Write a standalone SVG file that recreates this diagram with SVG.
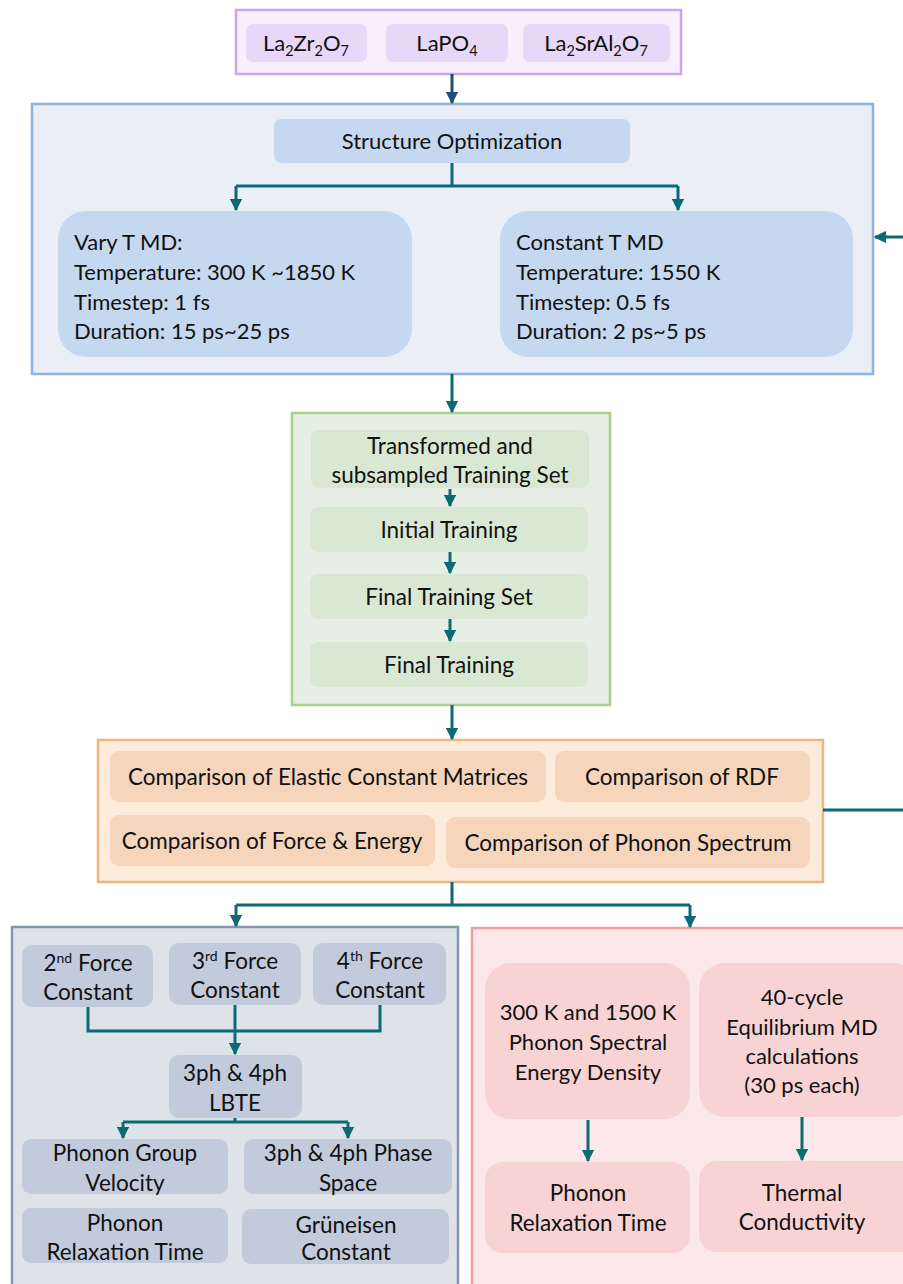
<svg xmlns="http://www.w3.org/2000/svg" width="903" height="1284" viewBox="0 0 903 1284">
<style>
text{font-family:Lato,"Open Sans","Liberation Sans",sans-serif;fill:#111;text-anchor:middle;}
.t19{font-size:22px;}
.tc{font-size:22.5px;}
.t21{font-size:22.5px;}
.tm{font-size:22px;}
.l{text-anchor:start;}
.con{fill:none;stroke:#0b6b74;stroke-width:3;}
.navy{fill:none;stroke:#1d4e7a;stroke-width:3;}
</style>
<defs>
<marker id="ah" viewBox="0 0 10 10" refX="9" refY="5" markerWidth="4.2" markerHeight="4.2" orient="auto"><path d="M0,0 L10,5 L0,10 z" fill="#0b6b74"/></marker>
<marker id="ahn" viewBox="0 0 10 10" refX="9" refY="5" markerWidth="4.2" markerHeight="4.2" orient="auto"><path d="M0,0 L10,5 L0,10 z" fill="#1d4e7a"/></marker>
</defs>

<!-- containers -->
<g id="materials">
<rect x="236" y="10" width="445" height="64" fill="#f8effc" stroke="#c8a9e6" stroke-width="2.5"/>
<rect x="246" y="24" width="121" height="38" rx="7" fill="#e6d8f6"/>
<rect x="386" y="24" width="122" height="38" rx="7" fill="#e6d8f6"/>
<rect x="523" y="24" width="147" height="38" rx="7" fill="#e6d8f6"/>
<text class="tm" x="306" y="51">La<tspan font-size="14.5" dy="5">2</tspan><tspan dy="-5">Zr</tspan><tspan font-size="14.5" dy="5">2</tspan><tspan dy="-5">O</tspan><tspan font-size="14.5" dy="5">7</tspan></text>
<text class="tm" x="447" y="51">LaPO<tspan font-size="14.5" dy="5">4</tspan></text>
<text class="tm" x="596" y="51">La<tspan font-size="14.5" dy="5">2</tspan><tspan dy="-5">SrAl</tspan><tspan font-size="14.5" dy="5">2</tspan><tspan dy="-5">O</tspan><tspan font-size="14.5" dy="5">7</tspan></text>
</g>

<g id="md">
<rect x="32" y="104" width="841" height="270" fill="#eaeff7" stroke="#8db3e2" stroke-width="2.5"/>
</g>
<g id="structure-optimization">
<rect x="274" y="119" width="356" height="44" rx="7" fill="#c5d8ef"/>
<text class="t19" x="452" y="149">Structure Optimization</text>
</g>
<g id="vary-t-md">
<rect x="58" y="211" width="354" height="146" rx="28" fill="#c5d8ef"/>
<text class="t19 l" x="74" y="250">Vary T MD:</text>
<text class="t19 l" x="74" y="280">Temperature: 300 K ~1850 K</text>
<text class="t19 l" x="74" y="310">Timestep: 1 fs</text>
<text class="t19 l" x="74" y="339">Duration: 15 ps~25 ps</text>
</g>
<g id="constant-t-md">
<rect x="500" y="211" width="353" height="146" rx="28" fill="#c5d8ef"/>
<text class="t19 l" x="516" y="250">Constant T MD</text>
<text class="t19 l" x="516" y="280">Temperature: 1550 K</text>
<text class="t19 l" x="516" y="310">Timestep: 0.5 fs</text>
<text class="t19 l" x="516" y="339">Duration: 2 ps~5 ps</text>
</g>

<g id="training">
<rect x="292" y="413" width="318" height="292" fill="#e7eee5" stroke="#a9d18e" stroke-width="2.5"/>
</g>
<g id="training-set">
<rect x="311" y="430" width="278" height="58" rx="8" fill="#d9e8d2"/>
<text class="t21" x="450" y="454">Transformed and</text>
<text class="t21" x="450" y="483">subsampled Training Set</text>
</g>
<g id="initial-training">
<rect x="310" y="507" width="278" height="45" rx="8" fill="#d9e8d2"/>
<text class="t21" x="449" y="538">Initial Training</text>
</g>
<g id="final-training-set">
<rect x="310" y="574" width="278" height="45" rx="8" fill="#d9e8d2"/>
<text class="t21" x="449" y="605">Final Training Set</text>
</g>
<g id="final-training">
<rect x="310" y="642" width="278" height="45" rx="8" fill="#d9e8d2"/>
<text class="t21" x="449" y="673">Final Training</text>
</g>

<g id="validation">
<rect x="98" y="740" width="725" height="142" fill="#fdebdc" stroke="#f0b47e" stroke-width="2.5"/>
</g>
<g id="cmp-elastic">
<rect x="110" y="751" width="436" height="51" rx="9" fill="#f5d6bd"/>
<text class="tc" x="328" y="785">Comparison of Elastic Constant Matrices</text>
</g>
<g id="cmp-rdf">
<rect x="555" y="751" width="255" height="51" rx="9" fill="#f5d6bd"/>
<text class="tc" x="682" y="785">Comparison of RDF</text>
</g>
<g id="cmp-force">
<rect x="110" y="815" width="325" height="51" rx="9" fill="#f5d6bd"/>
<text class="tc" x="272" y="849">Comparison of Force &amp; Energy</text>
</g>
<g id="cmp-phonon">
<rect x="446" y="817" width="364" height="51" rx="9" fill="#f5d6bd"/>
<text class="tc" x="628" y="851">Comparison of Phonon Spectrum</text>
</g>

<g id="lbte-panel">
<rect x="12" y="927" width="446" height="370" fill="#dee3ea" stroke="#8497b0" stroke-width="2.5"/>
</g>
<g id="fc2">
<rect x="22" y="945" width="131" height="62" rx="10" fill="#c2cbdc"/>
<text class="t21" x="88" y="971">2<tspan font-size="14" dy="-8">nd</tspan><tspan dy="8"> Force</tspan></text>
<text class="t21" x="88" y="1000">Constant</text>
</g>
<g id="fc3">
<rect x="169" y="943" width="132" height="62" rx="10" fill="#c2cbdc"/>
<text class="t21" x="235" y="969">3<tspan font-size="14" dy="-8">rd</tspan><tspan dy="8"> Force</tspan></text>
<text class="t21" x="235" y="998">Constant</text>
</g>
<g id="fc4">
<rect x="313" y="943" width="133" height="62" rx="10" fill="#c2cbdc"/>
<text class="t21" x="380" y="969">4<tspan font-size="14" dy="-8">th</tspan><tspan dy="8"> Force</tspan></text>
<text class="t21" x="380" y="998">Constant</text>
</g>
<g id="lbte">
<rect x="169" y="1055" width="133" height="63" rx="10" fill="#c2cbdc"/>
<text class="t21" x="235" y="1081">3ph &amp; 4ph</text>
<text class="t21" x="235" y="1111">LBTE</text>
</g>
<g id="group-velocity">
<rect x="22" y="1139" width="206" height="55" rx="9" fill="#c2cbdc"/>
<text class="t21" x="125" y="1161">Phonon Group</text>
<text class="t21" x="125" y="1191">Velocity</text>
</g>
<g id="phase-space">
<rect x="244" y="1139" width="208" height="55" rx="9" fill="#c2cbdc"/>
<text class="t21" x="348" y="1161">3ph &amp; 4ph Phase</text>
<text class="t21" x="348" y="1191">Space</text>
</g>
<g id="relaxation-lbte">
<rect x="22" y="1208" width="206" height="55" rx="9" fill="#c2cbdc"/>
<text class="t21" x="125" y="1231">Phonon</text>
<text class="t21" x="125" y="1260">Relaxation Time</text>
</g>
<g id="gruneisen">
<rect x="242" y="1209" width="207" height="55" rx="9" fill="#c2cbdc"/>
<text class="t21" x="346" y="1233">Grüneisen</text>
<text class="t21" x="346" y="1260">Constant</text>
</g>

<g id="md-panel">
<rect x="472" y="928" width="445" height="370" fill="#fce8e9" stroke="#f0a09e" stroke-width="2.5"/>
</g>
<g id="sed">
<rect x="485" y="963" width="205" height="156" rx="26" fill="#f8d3d3"/>
<text class="tm" x="588" y="1020">300 K and 1500 K</text>
<text class="tm" x="588" y="1050">Phonon Spectral</text>
<text class="tm" x="588" y="1080">Energy Density</text>
</g>
<g id="emd">
<rect x="699" y="963" width="220" height="154" rx="26" fill="#f8d3d3"/>
<text class="tm" x="802" y="1005">40-cycle</text>
<text class="tm" x="802" y="1035">Equilibrium MD</text>
<text class="tm" x="802" y="1064">calculations</text>
<text class="tm" x="802" y="1093">(30 ps each)</text>
</g>
<g id="relaxation-sed">
<rect x="485" y="1162" width="205" height="91" rx="18" fill="#f8d3d3"/>
<text class="t21" x="588" y="1201">Phonon</text>
<text class="t21" x="588" y="1231">Relaxation Time</text>
</g>
<g id="thermal-conductivity">
<rect x="699" y="1161" width="220" height="91" rx="18" fill="#f8d3d3"/>
<text class="t21" x="802" y="1201">Thermal</text>
<text class="t21" x="802" y="1230">Conductivity</text>
</g>

<g id="connectors">
<path class="navy" d="M452,74 V103" marker-end="url(#ahn)"/>
<path class="con" d="M452,163 V186 M236,186 H678"/>
<path class="con" d="M236,186 V210" marker-end="url(#ah)"/>
<path class="con" d="M678,186 V210" marker-end="url(#ah)"/>
<path class="con" d="M903,237 H875" marker-end="url(#ah)"/>
<path class="con" d="M452,374 V412" marker-end="url(#ah)"/>
<path class="con" d="M450,489 V506" marker-end="url(#ah)"/>
<path class="con" d="M450,552 V573" marker-end="url(#ah)"/>
<path class="con" d="M450,619 V641" marker-end="url(#ah)"/>
<path class="con" d="M452,705 V739" marker-end="url(#ah)"/>
<path class="con" d="M823,810 H903"/>
<path class="con" d="M452,882 V905 M236,905 H690"/>
<path class="con" d="M236,905 V926" marker-end="url(#ah)"/>
<path class="con" d="M690,905 V927" marker-end="url(#ah)"/>
<path class="con" d="M88,1007 V1031 H380 V1005"/>
<path class="con" d="M235,1005 V1054" marker-end="url(#ah)"/>
<path class="con" d="M235,1118 V1122 M123,1122 H348"/>
<path class="con" d="M123,1122 V1138" marker-end="url(#ah)"/>
<path class="con" d="M348,1122 V1138" marker-end="url(#ah)"/>
<path class="con" d="M588,1120 V1161" marker-end="url(#ah)"/>
<path class="con" d="M802,1117 V1160" marker-end="url(#ah)"/>
</g>
</svg>
